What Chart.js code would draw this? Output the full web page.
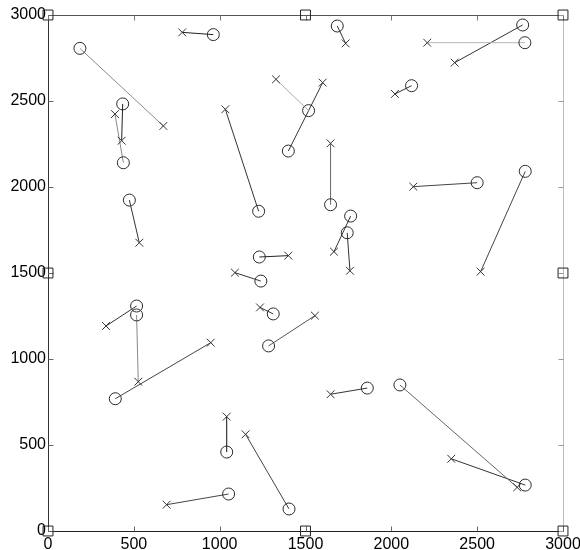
<!DOCTYPE html>
<html>
<head>
<meta charset="utf-8">
<script src="https://cdn.jsdelivr.net/npm/chart.js@4/dist/chart.umd.min.js"></script>
<style>
    html, body { margin: 0; padding: 0; background: #fff; }
    #wrap { width: 580px; height: 550px; }
</style>
</head>
<body>
<div id="wrap"><canvas id="myScatter"></canvas></div>
<script>
// punti (cerchi) e loro corrispondenti (croci), stesso indice = stessa coppia
const circleX = [186, 963, 435, 439, 474, 1227, 1518, 1400, 1231, 1240, 1685, 2778, 2765, 2118, 1646,
    2500, 2780, 1763, 1743, 516, 516, 1312, 1285, 392, 1041, 1404, 1052, 1860, 2050, 2780];
const circleY = [2806, 2886, 2483, 2141, 1924, 1859, 2444, 2209, 1593, 1453, 2936, 2839, 2942, 2589, 1897,
    2025, 2091, 1831, 1734, 1308, 1256, 1262, 1076, 769, 459, 128, 215, 831, 849, 267];
const crossX = [672, 782, 429, 390, 532, 1033, 1328, 1600, 1400, 1089, 1734, 2209, 2369, 2021, 1646,
    2128, 2520, 1666, 1759, 338, 526, 1235, 1555, 948, 1041, 1151, 691, 1646, 2733, 2349];
const crossY = [2355, 2899, 2269, 2424, 1676, 2452, 2626, 2607, 1601, 1502, 2835, 2839, 2723, 2541, 2254,
    2002, 1508, 1624, 1513, 1192, 868, 1300, 1252, 1095, 665, 562, 153, 795, 254, 420];

// quadratini sul bordo
const squareX = [0, 1500, 3000, 0, 3000, 0, 1500, 3000];
const squareY = [0, 0, 0, 1500, 1500, 3000, 3000, 3000];

const tickValues = [0, 500, 1000, 1500, 2000, 2500, 3000];

// tonalita' delle linee di collegamento
const lineShades = ['#8a8a8a', '#222', '#222', '#888', '#333', '#333', '#aaa', '#333', '#222', '#333',
    '#333', '#b5b5b5', '#333', '#333', '#666', '#444', '#444', '#333', '#333', '#333',
    '#888', '#333', '#555', '#444', '#111', '#444', '#444', '#333', '#666', '#333'];

const frame = {
    id: 'frame',
    beforeDatasetsDraw(chart) {
        const ctx = chart.ctx;
        const a = chart.chartArea;
        const x = chart.scales.x;
        const y = chart.scales.y;
        const L = Math.round(a.left) + 0.5, R = Math.round(a.right) + 0.5;
        const T = Math.round(a.top) + 0.5, B = Math.round(a.bottom) + 0.5;
        const seg = (x1, y1, x2, y2, c) => {
            ctx.strokeStyle = c;
            ctx.beginPath();
            ctx.moveTo(x1, y1);
            ctx.lineTo(x2, y2);
            ctx.stroke();
        };
        ctx.save();
        ctx.lineWidth = 1;
        seg(L, T, R, T, '#555');
        seg(R, T, R, B, '#bbb');
        seg(L, T, L, B, '#333');
        seg(L, B, R, B, '#222');
        tickValues.forEach(v => {
            const px = Math.round(x.getPixelForValue(v)) + 0.5;
            const py = Math.round(y.getPixelForValue(v)) + 0.5;
            seg(px, B, px, B - 5, '#666');
            seg(px, T, px, T + 5, '#777');
            seg(L, py, L + 5, py, '#666');
            seg(R, py, R - 5, py, '#999');
        });
        ctx.restore();
    }
};

document.addEventListener('DOMContentLoaded', function () {
    const ctx = document.getElementById('myScatter').getContext('2d');

    const lineSets = circleX.map((cx, i) => ({
        type: 'scatter',
        data: [{x: cx, y: circleY[i]}, {x: crossX[i], y: crossY[i]}],
        showLine: true,
        borderColor: lineShades[i],
        borderWidth: 1,
        pointRadius: 0,
        pointHoverRadius: 0,
        order: 3
    }));

    const config = {
        type: 'scatter',
        data: {
            datasets: [
                ...lineSets,
                {
                    label: 'cerchi',
                    data: circleX.map((v, i) => ({x: v, y: circleY[i]})),
                    pointStyle: 'circle',
                    pointRadius: 6,
                    borderColor: '#2a2a2a',
                    backgroundColor: 'rgba(0,0,0,0)',
                    borderWidth: 1,
                    order: 1
                },
                {
                    label: 'croci',
                    data: crossX.map((v, i) => ({x: v, y: crossY[i]})),
                    pointStyle: 'crossRot',
                    pointRadius: 5.5,
                    borderColor: '#333',
                    borderWidth: 1,
                    order: 1
                },
                {
                    label: 'bordo',
                    data: squareX.map((v, i) => ({x: v, y: squareY[i]})),
                    pointStyle: 'rect',
                    pointRadius: 7,
                    borderColor: '#222',
                    backgroundColor: 'rgba(0,0,0,0)',
                    borderWidth: 1,
                    clip: false,
                    order: 0
                }
            ]
        },
        options: {
            responsive: true,
            maintainAspectRatio: false,
            animation: false,
            events: [],
            layout: {
                padding: {top: 15, right: 17, left: 0, bottom: 0}
            },
            plugins: {
                legend: {display: false},
                tooltip: {enabled: false}
            },
            scales: {
                x: {
                    type: 'linear',
                    min: 0,
                    max: 3000,
                    grid: {display: false, drawTicks: false},
                    border: {display: false},
                    afterBuildTicks: s => { s.ticks = tickValues.map(v => ({value: v})); },
                    afterFit: s => {
                        s.height = 19;
                        s.paddingLeft = 0;
                        s.paddingRight = 0;
                    },
                    ticks: {
                        padding: 4,
                        color: '#000',
                        maxRotation: 0,
                        font: {family: "'Liberation Sans', Arial, sans-serif", size: 16},
                        callback: v => String(v)
                    }
                },
                y: {
                    type: 'linear',
                    min: 0,
                    max: 3000,
                    grid: {display: false, drawTicks: false},
                    border: {display: false},
                    afterBuildTicks: s => { s.ticks = tickValues.map(v => ({value: v})); },
                    afterFit: s => {
                        s.width = 48;
                        s.paddingTop = 0;
                        s.paddingBottom = 0;
                    },
                    ticks: {
                        padding: 2,
                        color: '#000',
                        font: {family: "'Liberation Sans', Arial, sans-serif", size: 16},
                        callback: v => String(v)
                    }
                }
            }
        },
        plugins: [frame]
    };

    new Chart(ctx, config);
});
</script>
</body>
</html>
